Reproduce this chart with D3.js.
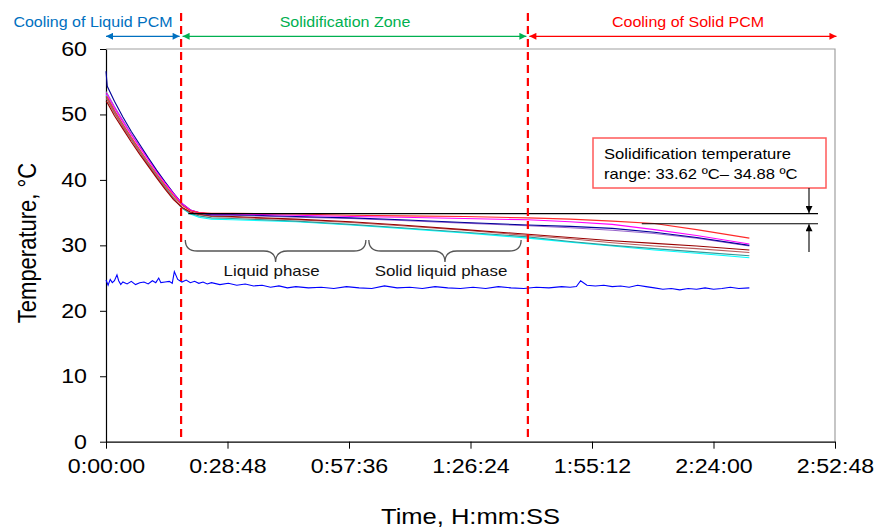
<!DOCTYPE html>
<html>
<head>
<meta charset="utf-8">
<script src="https://cdn.jsdelivr.net/npm/d3@7"></script>
<style>
body { margin: 0; background: #fff; }
text { font-family: "Liberation Sans", Arial, sans-serif; }
</style>
</head>
<body>
<svg id="chart" width="877" height="528"></svg>
<script>
// time points in minutes, shared by the PCM thermocouple series
var timeMin = [0, 0.3, 2, 4, 6, 8, 10, 12, 14, 16, 18, 20, 22, 25, 30, 45, 58, 70, 85, 100, 110, 120, 130, 140, 152.5];

var redT     = [52.8, 52.6, 50.6, 48.5, 46.5, 44.6, 42.7, 40.9, 39.2, 37.6, 36.1, 35.3, 35.0, 34.9, 34.9, 34.8, 34.6, 34.5, 34.4, 34.2, 34.0, 33.7, 33.35, 32.4, 31.1];
var magentaT = [53.2, 53.0, 51.0, 48.9, 46.9, 45.0, 43.1, 41.2, 39.5, 37.9, 36.4, 35.4, 35.0, 34.8, 34.8, 34.6, 34.4, 34.3, 34.1, 33.9, 33.6, 33.2, 32.4, 31.5, 30.2];
var navyT    = [56.6, 54.3, 52.0, 49.6, 47.4, 45.4, 43.4, 41.5, 39.7, 38.0, 36.4, 35.4, 35.0, 34.7, 34.7, 34.4, 34.2, 33.9, 33.5, 33.1, 32.9, 32.6, 32.0, 31.2, 30.0];
var purpleT  = [53.5, 53.2, 51.2, 49.1, 47.0, 45.1, 43.2, 41.3, 39.6, 37.9, 36.3, 35.3, 34.9, 34.6, 34.6, 34.3, 34.1, 33.8, 33.4, 33.0, 32.7, 32.3, 31.8, 31.1, 29.9];
var darkRedT = [52.0, 51.8, 49.8, 47.8, 45.8, 43.9, 42.1, 40.3, 38.6, 37.0, 35.8, 35.1, 34.8, 34.5, 34.4, 34.0, 33.6, 33.1, 32.4, 31.7, 31.2, 30.7, 30.3, 29.9, 29.3];
var brownT   = [52.4, 52.2, 50.2, 48.1, 46.1, 44.2, 42.3, 40.5, 38.8, 37.2, 35.8, 35.0, 34.7, 34.4, 34.3, 33.9, 33.5, 33.0, 32.3, 31.5, 31.0, 30.4, 29.9, 29.5, 28.9];
var tealT    = [52.6, 52.4, 50.3, 48.2, 46.2, 44.3, 42.4, 40.6, 38.9, 37.2, 35.7, 34.9, 34.5, 34.2, 34.1, 33.7, 33.2, 32.7, 32.0, 31.3, 30.6, 30.0, 29.5, 29.0, 28.4];
var cyanT    = [53.0, 52.8, 50.6, 48.5, 46.4, 44.5, 42.6, 40.8, 39.0, 37.3, 35.7, 34.8, 34.3, 34.0, 33.9, 33.6, 33.1, 32.6, 31.9, 31.1, 30.5, 29.9, 29.3, 28.8, 28.1];

// ambient (blue) series has its own time points
var ambientMin = [0, 0.5, 1, 1.5, 2, 2.6, 3, 3.5, 4, 5, 6, 7, 8, 9, 10, 11,
	11.8, 12.5, 13, 14, 15, 15.7, 16.2, 17, 18, 19, 20,
	21, 22, 23, 24, 25,
	27, 29, 31, 33, 35, 37, 39, 41, 43, 45,
	48, 51, 54, 57, 60, 63, 66, 69, 72, 75, 78, 81, 84, 87, 90, 93, 96, 99, 102, 105, 108,
	110, 111.5, 112.5, 114, 116, 118, 120,
	122, 124, 126, 128, 130, 132, 134, 136, 138, 140,
	142, 144, 146, 148, 150, 152.5];
var ambientT = [24.7, 23.9, 24.8, 24.3, 24.6, 25.5, 24.6, 24.0, 24.4, 24.1, 24.5, 24.0, 24.3, 24.4, 24.1, 24.6,
	24.3, 25.0, 24.3, 24.4, 24.5, 24.2, 26.0, 24.8, 24.4, 24.7, 24.3,
	24.5, 24.2, 24.4, 24.1, 24.3,
	24.0, 24.2, 23.9, 24.1, 23.8, 23.9, 23.6, 23.8, 23.5, 23.7,
	23.5, 23.6, 23.4, 23.7, 23.5, 23.4, 23.8, 23.5, 23.6, 23.4, 23.7, 23.5, 23.4, 23.6, 23.4, 23.7, 23.5, 23.4, 23.6, 23.5, 23.7,
	23.6, 23.7, 24.6, 23.9, 23.8, 23.9, 23.7,
	23.8, 23.6, 23.9, 23.7, 23.5, 23.3, 23.4, 23.2, 23.4, 23.3,
	23.5, 23.3, 23.4, 23.6, 23.4, 23.5];

var seriesList = [
	{ values: cyanT, color: "#00FFFF" },
	{ values: tealT, color: "#339999" },
	{ values: brownT, color: "#B85C5C" },
	{ values: darkRedT, color: "#990000" },
	{ values: purpleT, color: "#9966CC" },
	{ values: navyT, color: "#000099" },
	{ values: magentaT, color: "#FF00FF" },
	{ values: redT, color: "#FF2A2A" }
];

var xTickSec = [0, 1728, 3456, 5184, 6912, 8640, 10368];
var yTicks = [0, 10, 20, 30, 40, 50, 60];

// zone borders (min) and phase brace spans (min)
var zoneEdges = [0, 17.8, 100, 173.5];
var zoneNames = ["Cooling of Liquid PCM", "Solidification Zone", "Cooling of Solid PCM"];
var zoneColors = ["#0070C0", "#00B050", "#FF0000"];
var zoneLabelX = [93, 345, 688];
var braces = [[18.8, 61.6, "Liquid phase"], [62.3, 98.4, "Solid liquid phase"]];
var rangeLines = [34.85, 33.3];

var svg = d3.select("#chart");
var plotLeft = 106, plotRight = 835, plotTop = 49, plotBottom = 441.7;
// the source picture is a little wider than tall, text is stretched to match
var stretch = 1.16;

var x = d3.scaleLinear().domain([0, 10368]).range([plotLeft, plotRight]);
var y = d3.scaleLinear().domain([0, 60]).range([plotBottom, plotTop]);

var addText = function(px, py, str, size, color, anchor){
	return svg.append("text")
		.attr("transform", "translate(" + px + "," + py + ") scale(" + stretch + ",1)")
		.attr("text-anchor", anchor || "start")
		.attr("font-size", size)
		.attr("fill", color || "#000")
		.text(str);
};

// plot frame (gray top and right)
svg.append("path")
	.attr("d", "M" + plotLeft + "," + plotTop + "H" + plotRight + "V" + plotBottom)
	.attr("fill", "none")
	.attr("stroke", "#A0A0A0")
	.attr("stroke-width", 1.2);

var fmt = function(s){
	var h = Math.floor(s / 3600), m = Math.floor((s % 3600) / 60), sec = s % 60;
	return h + ":" + (m < 10 ? "0" : "") + m + ":" + (sec < 10 ? "0" : "") + sec;
};

var xAxis = svg.append("g")
	.attr("transform", "translate(0," + plotBottom + ")")
	.call(d3.axisBottom(x).tickValues(xTickSec).tickFormat(fmt).tickSize(7).tickSizeOuter(0));
xAxis.selectAll("text")
	.attr("font-size", 20).attr("y", 12).attr("dy", "0.95em").attr("fill", "#000")
	.attr("transform", "scale(" + stretch + ",1)");

var yAxis = svg.append("g")
	.attr("transform", "translate(" + plotLeft + ",0)")
	.call(d3.axisLeft(y).tickValues(yTicks).tickSize(6).tickSizeOuter(0));
yAxis.selectAll("text")
	.attr("font-size", 20).attr("x", -19 / stretch).attr("fill", "#000")
	.attr("transform", "scale(" + stretch + ",1)");
svg.selectAll(".domain").attr("stroke", "#000").attr("stroke-width", 1.2);
svg.selectAll(".tick line").attr("stroke", "#000");

// titles
addText((plotLeft + plotRight) / 2, 524, "Time, H:mm:SS", 22, "#000", "middle");
svg.append("text")
	.attr("transform", "translate(36,243) scale(" + stretch + ",1) rotate(-90)")
	.attr("text-anchor", "middle").attr("font-size", 22)
	.text("Temperature, \u00B0C");

// data lines
var line = d3.line()
	.x(function(d){ return x(d[0] * 60); })
	.y(function(d){ return y(d[1]); });

svg.append("path")
	.datum(ambientMin.map(function(t, i){ return [t, ambientT[i]]; }))
	.attr("d", line)
	.attr("fill", "none")
	.attr("stroke", "#0000FF")
	.attr("stroke-width", 1.1);

seriesList.forEach(function(s){
	svg.append("path")
		.datum(timeMin.map(function(t, i){ return [t, s.values[i]]; }))
		.attr("d", line)
		.attr("fill", "none")
		.attr("stroke", s.color)
		.attr("stroke-width", 1.1);
});

// solidification range lines
svg.append("line")
	.attr("x1", x(19.5 * 60)).attr("x2", 818)
	.attr("y1", y(rangeLines[0])).attr("y2", y(rangeLines[0]))
	.attr("stroke", "#000").attr("stroke-width", 1.2);
svg.append("line")
	.attr("x1", x(127 * 60)).attr("x2", 818)
	.attr("y1", y(rangeLines[1])).attr("y2", y(rangeLines[1]))
	.attr("stroke", "#000").attr("stroke-width", 1.2);

// arrowheads
var defs = svg.append("defs");
var addMarker = function(id, color){
	defs.append("marker")
		.attr("id", id)
		.attr("viewBox", "0 0 10 10")
		.attr("refX", 10).attr("refY", 5)
		.attr("markerWidth", 9).attr("markerHeight", 7)
		.attr("markerUnits", "userSpaceOnUse")
		.attr("orient", "auto-start-reverse")
		.append("path")
		.attr("d", "M0,0L10,5L0,10Z")
		.attr("fill", color);
};
zoneColors.forEach(function(c, i){ addMarker("arr" + i, c); });
addMarker("arrK", "#000");

// zone arrows and labels
for (var i = 0; i < zoneNames.length; i++){
	var xa = x(zoneEdges[i] * 60), xb = x(zoneEdges[i + 1] * 60);
	svg.append("line")
		.attr("x1", xa + (i ? 1.5 : 0)).attr("x2", xb - 1.5)
		.attr("y1", 36.3).attr("y2", 36.3)
		.attr("stroke", zoneColors[i]).attr("stroke-width", 1.2)
		.attr("marker-start", "url(#arr" + i + ")")
		.attr("marker-end", "url(#arr" + i + ")");
	addText(zoneLabelX[i], 26.5, zoneNames[i], 13.8, zoneColors[i], "middle");
}

// dashed zone borders
[zoneEdges[1], zoneEdges[2]].forEach(function(t){
	svg.append("line")
		.attr("x1", x(t * 60)).attr("x2", x(t * 60))
		.attr("y1", 13).attr("y2", plotBottom)
		.attr("stroke", "#FF0000").attr("stroke-width", 2.2)
		.attr("stroke-dasharray", "8,5");
});

// phase braces
braces.forEach(function(b){
	var x1 = x(b[0] * 60), x2 = x(b[1] * 60), m = (x1 + x2) / 2;
	var y0 = 240, h = 22, r = 12, ym = y0 + h / 2;
	svg.append("path")
		.attr("d", "M" + x1 + "," + y0 +
			"Q" + x1 + "," + ym + " " + (x1 + r) + "," + ym +
			"L" + (m - r) + "," + ym +
			"Q" + m + "," + ym + " " + m + "," + (y0 + h) +
			"Q" + m + "," + ym + " " + (m + r) + "," + ym +
			"L" + (x2 - r) + "," + ym +
			"Q" + x2 + "," + ym + " " + x2 + "," + y0)
		.attr("fill", "none")
		.attr("stroke", "#555")
		.attr("stroke-width", 1.3);
	addText(m - 4, 276, b[2], 14.6, "#111", "middle");
});

// annotation box
svg.append("rect")
	.attr("x", 593).attr("y", 138).attr("width", 233).attr("height", 50)
	.attr("fill", "#fff").attr("stroke", "#FF5A5A").attr("stroke-width", 1.5);
addText(604, 159, "Solidification temperature", 14.3);
addText(604, 179, "range: 33.62 \u00BAC\u2013 34.88 \u00BAC", 14.3);

svg.append("line")
	.attr("x1", 809).attr("x2", 809).attr("y1", 188).attr("y2", y(rangeLines[0]) - 0.5)
	.attr("stroke", "#000").attr("stroke-width", 1.1)
	.attr("marker-end", "url(#arrK)");
svg.append("line")
	.attr("x1", 809).attr("x2", 809).attr("y1", 252).attr("y2", y(rangeLines[1]) + 0.5)
	.attr("stroke", "#000").attr("stroke-width", 1.1)
	.attr("marker-end", "url(#arrK)");
</script>
</body>
</html>
